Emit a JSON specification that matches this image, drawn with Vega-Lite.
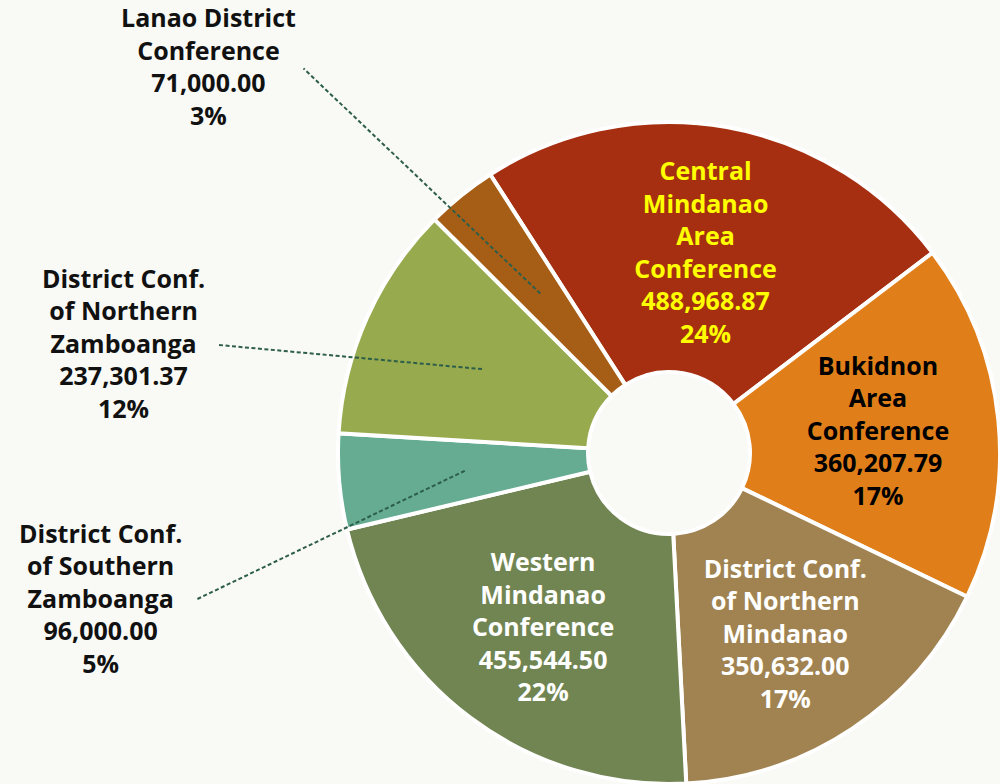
{
  "$schema": "https://vega.github.io/schema/vega-lite/v6.json",
  "width": 660,
  "height": 660,
  "autosize": {"type": "none"},
  "padding": {"left": 339, "top": 123, "right": 1, "bottom": 1},
  "background": "#F9F9F5",
  "config": {"view": {"stroke": null}},
  "data": {
    "values": [
      {"order": 1, "name": "Central Mindanao Area Conference", "value": 488968.87, "label": "Central\nMindanao\nArea\nConference\n488,968.87\n24%"},
      {"order": 2, "name": "Bukidnon Area Conference", "value": 360207.79, "label": "Bukidnon\nArea\nConference\n360,207.79\n17%"},
      {"order": 3, "name": "District Conf. of Northern Mindanao", "value": 350632.00, "label": "District Conf.\nof Northern\nMindanao\n350,632.00\n17%"},
      {"order": 4, "name": "Western Mindanao Conference", "value": 455544.50, "label": "Western\nMindanao\nConference\n455,544.50\n22%"},
      {"order": 5, "name": "District Conf. of Southern Zamboanga", "value": 96000.00, "label": "District Conf.\nof Southern\nZamboanga\n96,000.00\n5%"},
      {"order": 6, "name": "District Conf. of Northern Zamboanga", "value": 237301.37, "label": "District Conf.\nof Northern\nZamboanga\n237,301.37\n12%"},
      {"order": 7, "name": "Lanao District Conference", "value": 71000.00, "label": "Lanao District\nConference\n71,000.00\n3%"}
    ]
  },
  "layer": [
    {
      "mark": {"type": "arc", "innerRadius": 81, "outerRadius": 331, "stroke": "#FFFFFF", "strokeWidth": 4},
      "encoding": {
        "theta": {"field": "value", "type": "quantitative", "stack": true, "scale": {"range": [-0.5707, 5.7125]}},
        "order": {"field": "order", "type": "quantitative"},
        "color": {
          "field": "name",
          "type": "nominal",
          "legend": null,
          "scale": {
            "domain": ["Central Mindanao Area Conference", "Bukidnon Area Conference", "District Conf. of Northern Mindanao", "Western Mindanao Conference", "District Conf. of Southern Zamboanga", "District Conf. of Northern Zamboanga", "Lanao District Conference"],
            "range": ["#A52F10", "#E07F1A", "#A08350", "#718552", "#65AC93", "#97AB4E", "#A65E16"]
          }
        }
      }
    },
    {
      "transform": [
        {"window": [{"op": "sum", "field": "value", "as": "cum"}], "sort": [{"field": "order"}], "frame": [null, 0]},
        {"joinaggregate": [{"op": "sum", "field": "value", "as": "total"}]},
        {"filter": "datum.value < 300000"},
        {"calculate": "-0.5707 + 2*PI*(datum.cum - datum.value/2)/datum.total", "as": "mid"},
        {"calculate": "datum.name === 'Lanao District Conference' ? 600 : (datum.name === 'District Conf. of Northern Zamboanga' ? 556 : 587)", "as": "rLab"},
        {"calculate": "datum.name === 'Lanao District Conference' ? -0.196 : (datum.name === 'District Conf. of Northern Zamboanga' ? -0.226 : -0.166)", "as": "oLab"},
        {"calculate": "205*sin(datum.mid)", "as": "xIn"},
        {"calculate": "205*cos(datum.mid)", "as": "yIn"},
        {"calculate": "datum.rLab*sin(datum.mid+datum.oLab)+95", "as": "xOut"},
        {"calculate": "datum.rLab*cos(datum.mid+datum.oLab)", "as": "yOut"}
      ],
      "mark": {"type": "rule", "color": "#2D5E4A", "strokeWidth": 2, "strokeDash": [4, 2.5]},
      "encoding": {
        "x": {"field": "xIn", "type": "quantitative", "scale": {"domain": [-330, 330], "nice": false, "zero": false}, "axis": null},
        "y": {"field": "yIn", "type": "quantitative", "scale": {"domain": [-330, 330], "nice": false, "zero": false}, "axis": null},
        "x2": {"field": "xOut"},
        "y2": {"field": "yOut"}
      }
    },
    {
      "mark": {"type": "text", "radius": 210, "dy": -74, "font": "Open Sans", "fontWeight": "bold", "fontSize": 25, "lineHeight": 32.5, "lineBreak": "\n", "align": "center", "baseline": "middle", "color": "#FFFF00"},
      "encoding": {
        "theta": {"field": "value", "type": "quantitative", "stack": true},
        "order": {"field": "order", "type": "quantitative"},
        "text": {"condition": {"test": "datum.name === 'Central Mindanao Area Conference'", "field": "label", "type": "nominal"}, "value": ""}
      }
    },
    {
      "mark": {"type": "text", "radius": 210, "dy": -65, "font": "Open Sans", "fontWeight": "bold", "fontSize": 25, "lineHeight": 32.5, "lineBreak": "\n", "align": "center", "baseline": "middle", "color": "#000000"},
      "encoding": {
        "theta": {"field": "value", "type": "quantitative", "stack": true},
        "order": {"field": "order", "type": "quantitative"},
        "text": {"condition": {"test": "datum.name === 'Bukidnon Area Conference'", "field": "label", "type": "nominal"}, "value": ""}
      }
    },
    {
      "mark": {"type": "text", "radius": 210, "dy": -58, "font": "Open Sans", "fontWeight": "bold", "fontSize": 25, "lineHeight": 32.5, "lineBreak": "\n", "align": "center", "baseline": "middle", "color": "#FFFFFF"},
      "encoding": {
        "theta": {"field": "value", "type": "quantitative", "stack": true},
        "order": {"field": "order", "type": "quantitative"},
        "text": {"condition": {"test": "datum.name === 'District Conf. of Northern Mindanao' || datum.name === 'Western Mindanao Conference'", "field": "label", "type": "nominal"}, "value": ""}
      }
    },
    {
      "mark": {"type": "text", "radius": 600, "thetaOffset": -0.196, "dy": -49, "font": "Open Sans", "fontWeight": "bold", "fontSize": 25, "lineHeight": 32.5, "lineBreak": "\n", "align": "center", "baseline": "middle", "color": "#111111"},
      "encoding": {
        "theta": {"field": "value", "type": "quantitative", "stack": true},
        "order": {"field": "order", "type": "quantitative"},
        "text": {"condition": {"test": "datum.name === 'Lanao District Conference'", "field": "label", "type": "nominal"}, "value": ""}
      }
    },
    {
      "mark": {"type": "text", "radius": 556, "thetaOffset": -0.226, "dy": -65, "font": "Open Sans", "fontWeight": "bold", "fontSize": 25, "lineHeight": 32.5, "lineBreak": "\n", "align": "center", "baseline": "middle", "color": "#111111"},
      "encoding": {
        "theta": {"field": "value", "type": "quantitative", "stack": true},
        "order": {"field": "order", "type": "quantitative"},
        "text": {"condition": {"test": "datum.name === 'District Conf. of Northern Zamboanga'", "field": "label", "type": "nominal"}, "value": ""}
      }
    },
    {
      "mark": {"type": "text", "radius": 587, "thetaOffset": -0.166, "dy": -65, "font": "Open Sans", "fontWeight": "bold", "fontSize": 25, "lineHeight": 32.5, "lineBreak": "\n", "align": "center", "baseline": "middle", "color": "#111111"},
      "encoding": {
        "theta": {"field": "value", "type": "quantitative", "stack": true},
        "order": {"field": "order", "type": "quantitative"},
        "text": {"condition": {"test": "datum.name === 'District Conf. of Southern Zamboanga'", "field": "label", "type": "nominal"}, "value": ""}
      }
    }
  ]
}
